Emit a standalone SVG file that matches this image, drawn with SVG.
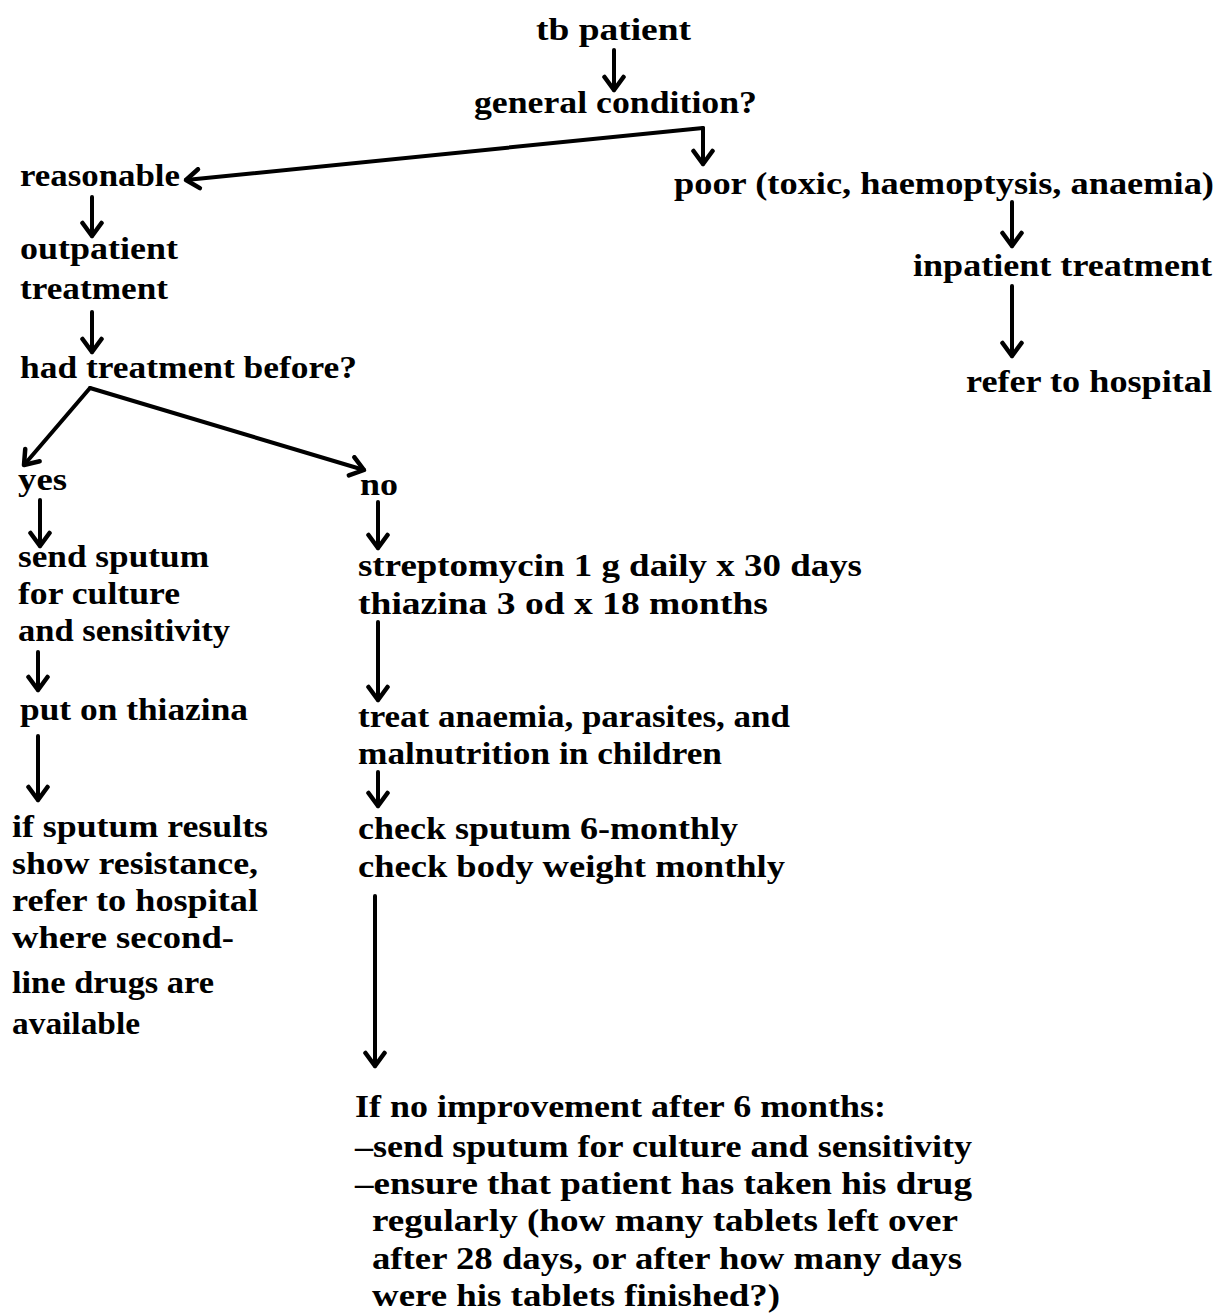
<svg xmlns="http://www.w3.org/2000/svg" width="1224" height="1313" viewBox="0 0 1224 1313">
<defs>
<style>
text{font-family:"Liberation Serif",serif;font-weight:bold;font-size:31px;fill:#000}
.c{fill:none;stroke:#000;stroke-width:4;stroke-linecap:round;stroke-linejoin:round}
</style>
<marker id="a" markerUnits="userSpaceOnUse" viewBox="-16 -12 20 24" markerWidth="20" markerHeight="24" refX="0" refY="0" orient="auto">
<path d="M-13,-9.5 L0,0 L-13,9.5" fill="none" stroke="#000" stroke-width="4.5" stroke-linecap="round" stroke-linejoin="round"/>
</marker>
</defs>
<rect width="1224" height="1313" fill="#fff"/>
<g id="connectors">
<path class="c" d="M614,50 L614,90" marker-end="url(#a)"/>
<path class="c" d="M703,128 L186,180" marker-end="url(#a)"/>
<path class="c" d="M703,128 L703,164" marker-end="url(#a)"/>
<path class="c" d="M1012,202 L1012,246" marker-end="url(#a)"/>
<path class="c" d="M1012,286 L1012,356" marker-end="url(#a)"/>
<path class="c" d="M92,197 L92,236" marker-end="url(#a)"/>
<path class="c" d="M92,312 L92,352" marker-end="url(#a)"/>
<path class="c" d="M90,388 L24,465" marker-end="url(#a)"/>
<path class="c" d="M90,388 L364,470" marker-end="url(#a)"/>
<path class="c" d="M40,500 L40,546" marker-end="url(#a)"/>
<path class="c" d="M38,652 L38,690" marker-end="url(#a)"/>
<path class="c" d="M38,736 L38,800" marker-end="url(#a)"/>
<path class="c" d="M378,502 L378,548" marker-end="url(#a)"/>
<path class="c" d="M378,622 L378,700" marker-end="url(#a)"/>
<path class="c" d="M378,772 L378,806" marker-end="url(#a)"/>
<path class="c" d="M375,896 L375,1066" marker-end="url(#a)"/>
</g>
<g id="tb-patient"><text x="536" y="40" textLength="155" lengthAdjust="spacingAndGlyphs">tb patient</text></g>
<g id="general-condition"><text x="474" y="113" textLength="283" lengthAdjust="spacingAndGlyphs">general condition?</text></g>
<g id="reasonable"><text x="20" y="186" textLength="160" lengthAdjust="spacingAndGlyphs">reasonable</text></g>
<g id="poor"><text x="674" y="194" textLength="540" lengthAdjust="spacingAndGlyphs">poor (toxic, haemoptysis, anaemia)</text></g>
<g id="inpatient"><text x="913" y="276" textLength="299" lengthAdjust="spacingAndGlyphs">inpatient treatment</text></g>
<g id="refer-hospital"><text x="966" y="392" textLength="246" lengthAdjust="spacingAndGlyphs">refer to hospital</text></g>
<g id="outpatient"><text x="20" y="259" textLength="158" lengthAdjust="spacingAndGlyphs">outpatient</text><text x="20" y="299" textLength="148" lengthAdjust="spacingAndGlyphs">treatment</text></g>
<g id="had-treatment"><text x="20" y="378" textLength="337" lengthAdjust="spacingAndGlyphs">had treatment before?</text></g>
<g id="yes"><text x="18" y="490" textLength="49" lengthAdjust="spacingAndGlyphs">yes</text></g>
<g id="no"><text x="360" y="495" textLength="38" lengthAdjust="spacingAndGlyphs">no</text></g>
<g id="send-sputum"><text x="18" y="567" textLength="191" lengthAdjust="spacingAndGlyphs">send sputum</text><text x="18" y="604" textLength="162" lengthAdjust="spacingAndGlyphs">for culture</text><text x="18" y="641" textLength="212" lengthAdjust="spacingAndGlyphs">and sensitivity</text></g>
<g id="put-thiazina"><text x="20" y="720" textLength="228" lengthAdjust="spacingAndGlyphs">put on thiazina</text></g>
<g id="if-sputum"><text x="12" y="837" textLength="256" lengthAdjust="spacingAndGlyphs">if sputum results</text><text x="12" y="874" textLength="246" lengthAdjust="spacingAndGlyphs">show resistance,</text><text x="12" y="911" textLength="246" lengthAdjust="spacingAndGlyphs">refer to hospital</text><text x="12" y="948" textLength="222" lengthAdjust="spacingAndGlyphs">where second-</text><text x="12" y="993" textLength="202" lengthAdjust="spacingAndGlyphs">line drugs are</text><text x="12" y="1034" textLength="128" lengthAdjust="spacingAndGlyphs">available</text></g>
<g id="streptomycin"><text x="358" y="576" textLength="504" lengthAdjust="spacingAndGlyphs">streptomycin 1 g daily x 30 days</text><text x="358" y="614" textLength="410" lengthAdjust="spacingAndGlyphs">thiazina 3 od x 18 months</text></g>
<g id="treat-anaemia"><text x="358" y="727" textLength="432" lengthAdjust="spacingAndGlyphs">treat anaemia, parasites, and</text><text x="358" y="764" textLength="364" lengthAdjust="spacingAndGlyphs">malnutrition in children</text></g>
<g id="check-sputum"><text x="358" y="839" textLength="380" lengthAdjust="spacingAndGlyphs">check sputum 6-monthly</text><text x="358" y="877" textLength="427" lengthAdjust="spacingAndGlyphs">check body weight monthly</text></g>
<g id="no-improvement"><text x="355" y="1117" textLength="531" lengthAdjust="spacingAndGlyphs">If no improvement after 6 months:</text><text x="355" y="1157" textLength="617" lengthAdjust="spacingAndGlyphs">–send sputum for culture and sensitivity</text><text x="355" y="1194" textLength="617" lengthAdjust="spacingAndGlyphs">–ensure that patient has taken his drug</text><text x="372" y="1231" textLength="586" lengthAdjust="spacingAndGlyphs">regularly (how many tablets left over</text><text x="372" y="1269" textLength="590" lengthAdjust="spacingAndGlyphs">after 28 days, or after how many days</text><text x="372" y="1306" textLength="408" lengthAdjust="spacingAndGlyphs">were his tablets finished?)</text></g>
</svg>
